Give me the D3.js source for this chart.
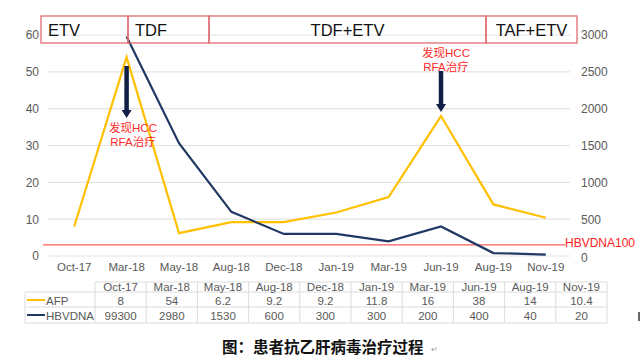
<!DOCTYPE html>
<html><head><meta charset="utf-8">
<script src="https://cdn.jsdelivr.net/npm/d3@7"></script>
<style>body{margin:0;background:#fff}svg{display:block}</style>
</head><body>
<svg id="c" width="640" height="356"></svg>
<script>
const categories = ["Oct-17","Mar-18","May-18","Aug-18","Dec-18","Jan-19","Mar-19","Jun-19","Aug-19","Nov-19"];
const afp = [8,54,6.2,9.2,9.2,11.8,16,38,14,10.4];
const hbvdna = [99300,2980,1530,600,300,300,200,400,40,20];
const tableAfp = ["8","54","6.2","9.2","9.2","11.8","16","38","14","10.4"];
const tableHbv = ["99300","2980","1530","600","300","300","200","400","40","20"];
const leftTicks = [0,10,20,30,40,50,60];
const rightTicks = [0,500,1000,1500,2000,2500,3000];
const thresholdValue = 150; // drawn position on right axis
const thresholdLabel = "HBVDNA100";
const phases = [
  {name:"ETV", from:41, to:128, anchor:"start"},
  {name:"TDF", from:128, to:209, anchor:"start"},
  {name:"TDF+ETV", from:209, to:486, anchor:"middle"},
  {name:"TAF+ETV", from:486, to:577, anchor:"middle"}
];
const events = [
  {cat:"Mar-18", arrowTop:66, arrowBottom:118, textY:[132,146], textX:133},
  {cat:"Jun-19", arrowTop:71, arrowBottom:112, textY:[57,71], textX:446}
];
const caption = "图：患者抗乙肝病毒治疗过程";

const svg = d3.select("#c");
const gray = "#595959";
const latin = "'Liberation Sans', Arial, 'Noto Sans CJK SC', sans-serif";
const x = d3.scaleBand().domain(categories).range([48,572]);
const yL = d3.scaleLinear().domain([0,60]).range([256,35]);
const yR = d3.scaleLinear().domain([0,3000]).range([256,35]);

// gridlines
svg.append("g").selectAll("line").data(leftTicks).join("line")
  .attr("x1",48).attr("x2",570).attr("y1",d=>yL(d)).attr("y2",d=>yL(d))
  .attr("stroke","#e3e3e3").attr("stroke-width",1.2);

// left axis
const axL = svg.append("g").attr("transform","translate(48,0)")
  .call(d3.axisLeft(yL).tickValues(leftTicks).tickSize(0).tickPadding(9));
axL.select(".domain").remove();
axL.selectAll("text").attr("fill",gray).attr("font-size",12).attr("font-family",latin);
// right axis
const axR = svg.append("g").attr("transform","translate(572,0)")
  .call(d3.axisRight(yR).tickValues(rightTicks).tickFormat(d3.format("d")).tickSize(0).tickPadding(9));
axR.select(".domain").remove();
axR.selectAll("text").attr("fill",gray).attr("font-size",12).attr("font-family",latin)
  .attr("dy",d=>d===0?"0.42em":"0.32em");
// bottom axis
const axB = svg.append("g").attr("transform","translate(0,258)")
  .call(d3.axisBottom(x).tickSize(0).tickPadding(5));
axB.select(".domain").remove();
axB.selectAll("text").attr("fill",gray).attr("font-size",11.5).attr("font-family",latin);

// threshold
svg.append("line").attr("x1",43).attr("x2",565)
  .attr("y1",yR(thresholdValue)).attr("y2",yR(thresholdValue))
  .attr("stroke","#ff5a5a").attr("stroke-width",1.2);
svg.append("text").attr("x",565).attr("y",yR(thresholdValue)+2)
  .attr("fill","#ff1a1a").attr("font-size",12).attr("font-family",latin).text(thresholdLabel);

// lines
const cx = c => x(c)+x.bandwidth()/2;
svg.append("path").datum(categories.map((c,i)=>({c,v:afp[i]})))
  .attr("fill","none").attr("stroke","#FFC000").attr("stroke-width",2.2)
  .attr("d",d3.line().x(d=>cx(d.c)).y(d=>yL(d.v)));
svg.append("path").datum(categories.map((c,i)=>({c,v:hbvdna[i]})))
  .attr("fill","none").attr("stroke","#203864").attr("stroke-width",2.2)
  .attr("d",d3.line().defined(d=>d.v<=3000).x(d=>cx(d.c)).y(d=>yR(d.v)));

// phase boxes
phases.forEach(p=>{
  svg.append("rect").attr("x",p.from).attr("y",16).attr("width",p.to-p.from).attr("height",27)
    .attr("fill","none").attr("stroke","#e06b72").attr("stroke-width",1.3);
  svg.append("text").attr("x",p.anchor==="start"?p.from+7:(p.from+p.to)/2).attr("y",36)
    .attr("text-anchor",p.anchor).attr("font-size",16.5).attr("fill","#111").attr("font-family",latin).text(p.name);
});

// event arrows
events.forEach(e=>{
  const ax = cx(e.cat);
  svg.append("line").attr("x1",ax).attr("x2",ax).attr("y1",e.arrowTop).attr("y2",e.arrowBottom-7)
    .attr("stroke","#0f1f45").attr("stroke-width",4.5);
  svg.append("path").attr("d",`M${ax-5},${e.arrowBottom-8}L${ax+5},${e.arrowBottom-8}L${ax},${e.arrowBottom}Z`).attr("fill","#0f1f45");
  ["发现HCC","RFA治疗"].forEach((t,i)=>{
    svg.append("text").attr("x",e.textX).attr("y",e.textY[i]).attr("text-anchor","middle")
      .attr("fill","#ff2a2a").attr("font-size",11.5).attr("font-family",latin).text(t);
  });
});

// data table
const tx0 = 25, tx1 = 95, cw = 51.2;
const rowsY = [282,292,307,323];
const tg = svg.append("g").attr("font-family",latin).attr("font-size",11.5).attr("fill",gray);
const lc = "#dcdcdc";
tg.append("line").attr("x1",tx1).attr("x2",tx1+cw*10).attr("y1",rowsY[0]).attr("y2",rowsY[0]).attr("stroke",lc);
[1,2,3].forEach(r=>tg.append("line").attr("x1",tx0).attr("x2",tx1+cw*10).attr("y1",rowsY[r]).attr("y2",rowsY[r]).attr("stroke",lc));
tg.append("line").attr("x1",tx0).attr("x2",tx0).attr("y1",rowsY[1]).attr("y2",rowsY[3]).attr("stroke",lc);
d3.range(11).forEach(i=>tg.append("line").attr("x1",tx1+cw*i).attr("x2",tx1+cw*i).attr("y1",rowsY[0]).attr("y2",rowsY[3]).attr("stroke",lc));
categories.forEach((c,i)=>{
  const mx = tx1+cw*i+cw/2;
  tg.append("text").attr("x",mx).attr("y",291).attr("text-anchor","middle").text(c);
  tg.append("text").attr("x",mx).attr("y",304.5).attr("text-anchor","middle").text(tableAfp[i]);
  tg.append("text").attr("x",mx).attr("y",319.5).attr("text-anchor","middle").text(tableHbv[i]);
});
tg.append("line").attr("x1",27).attr("x2",45).attr("y1",300).attr("y2",300).attr("stroke","#FFC000").attr("stroke-width",2);
tg.append("text").attr("x",46).attr("y",304.5).text("AFP");
tg.append("line").attr("x1",27).attr("x2",45).attr("y1",315).attr("y2",315).attr("stroke","#203864").attr("stroke-width",2);
tg.append("text").attr("x",46).attr("y",319.5).text("HBVDNA");

// caption
svg.append("text").attr("x",222).attr("y",353).attr("font-family","'Noto Sans CJK SC', sans-serif")
  .attr("font-size",15.5).attr("font-weight","bold").attr("fill","#111").text(caption);
svg.append("text").attr("x",431).attr("y",352).attr("font-size",8).attr("fill","#999").attr("font-family",latin).text("↵");
svg.append("line").attr("x1",639).attr("x2",639).attr("y1",312).attr("y2",321).attr("stroke","#000").attr("stroke-width",1.2);
</script>
</body></html>
